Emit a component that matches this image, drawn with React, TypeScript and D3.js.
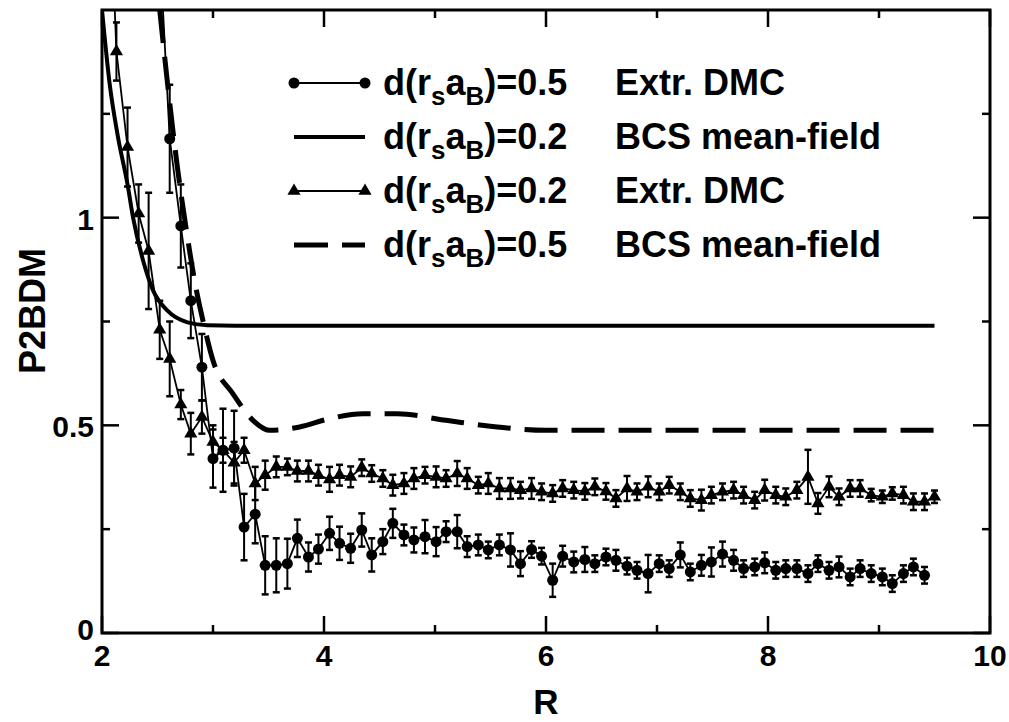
import * as d3 from 'd3';

// R grid shared by both DMC series
const R_GRID = [
  2.04, 2.13, 2.23, 2.33, 2.42, 2.52, 2.61, 2.71, 2.80, 2.90,
  3.00, 3.09, 3.19, 3.28, 3.38, 3.47, 3.57, 3.67, 3.76, 3.86,
  3.95, 4.05, 4.14, 4.24, 4.34, 4.43, 4.53, 4.62, 4.72, 4.81,
  4.91, 5.01, 5.10, 5.20, 5.29, 5.39, 5.48, 5.58, 5.68, 5.77,
  5.87, 5.96, 6.06, 6.15, 6.25, 6.35, 6.44, 6.54, 6.63, 6.73,
  6.82, 6.92, 7.02, 7.11, 7.21, 7.30, 7.40, 7.49, 7.59, 7.69,
  7.78, 7.88, 7.97, 8.07, 8.16, 8.26, 8.36, 8.45, 8.55, 8.64,
  8.74, 8.83, 8.93, 9.03, 9.12, 9.22, 9.31, 9.41, 9.50,
];

// d(rs aB)=0.2 Extr. DMC (triangles)
const TRI_VALUES = [
  2.0, 1.40, 1.17, 1.01, 0.92, 0.73, 0.66, 0.55, 0.48, 0.52,
  0.46, 0.44, 0.41, 0.44, 0.36, 0.38, 0.40, 0.40, 0.39, 0.39,
  0.38, 0.37, 0.38, 0.376, 0.398, 0.384, 0.372, 0.356, 0.36, 0.372,
  0.38, 0.376, 0.372, 0.384, 0.372, 0.356, 0.36, 0.348, 0.348, 0.344,
  0.348, 0.34, 0.336, 0.348, 0.344, 0.341, 0.352, 0.341, 0.324, 0.348,
  0.34, 0.352, 0.34, 0.356, 0.34, 0.324, 0.32, 0.332, 0.34, 0.344,
  0.332, 0.32, 0.344, 0.332, 0.328, 0.344, 0.376, 0.312, 0.352, 0.328,
  0.348, 0.348, 0.332, 0.328, 0.336, 0.332, 0.316, 0.316, 0.328,
];
const TRI_ERRORS = [
  0.07, 0.07, 0.095, 0.07, 0.14, 0.07, 0.09, 0.035, 0.05, 0.04,
  0.04, 0.03, 0.05, 0.03, 0.04, 0.035, 0.025, 0.02, 0.025, 0.025,
  0.025, 0.03, 0.025, 0.025, 0.02, 0.02, 0.02, 0.025, 0.025, 0.025,
  0.02, 0.025, 0.02, 0.03, 0.025, 0.02, 0.025, 0.025, 0.025, 0.02,
  0.025, 0.02, 0.02, 0.02, 0.02, 0.02, 0.02, 0.02, 0.02, 0.03,
  0.02, 0.025, 0.02, 0.02, 0.02, 0.02, 0.025, 0.02, 0.02, 0.02,
  0.02, 0.02, 0.025, 0.02, 0.02, 0.02, 0.065, 0.025, 0.025, 0.02,
  0.02, 0.02, 0.015, 0.015, 0.015, 0.02, 0.02, 0.02, 0.015,
];

// d(rs aB)=0.5 Extr. DMC (circles), starts at R_GRID[5] and ends at R_GRID[77]
const CIRCLE_START = 5;
const CIRC_VALUES = [
  1.65, 1.19, 0.98, 0.80, 0.64,
  0.42, 0.44, 0.445, 0.255, 0.286, 0.163, 0.163, 0.167, 0.228, 0.183,
  0.202, 0.24, 0.216, 0.204, 0.248, 0.188, 0.22, 0.264, 0.236, 0.224,
  0.232, 0.22, 0.244, 0.244, 0.208, 0.212, 0.2, 0.212, 0.2, 0.167,
  0.201, 0.185, 0.127, 0.185, 0.171, 0.177, 0.167, 0.183, 0.175, 0.161,
  0.151, 0.143, 0.167, 0.155, 0.188, 0.147, 0.163, 0.171, 0.19, 0.175,
  0.155, 0.159, 0.169, 0.151, 0.155, 0.155, 0.143, 0.167, 0.151, 0.159,
  0.135, 0.155, 0.143, 0.135, 0.119, 0.143, 0.159, 0.139,
];
const CIRC_ERRORS = [
  0.1, 0.13, 0.1, 0.09, 0.08,
  0.07, 0.1, 0.09, 0.08, 0.07, 0.07, 0.065, 0.06, 0.045, 0.035,
  0.035, 0.04, 0.04, 0.035, 0.04, 0.04, 0.03, 0.035, 0.025, 0.03,
  0.04, 0.035, 0.025, 0.04, 0.025, 0.025, 0.02, 0.025, 0.04, 0.03,
  0.02, 0.02, 0.04, 0.025, 0.025, 0.03, 0.02, 0.02, 0.025, 0.02,
  0.02, 0.045, 0.02, 0.02, 0.03, 0.02, 0.025, 0.035, 0.03, 0.025,
  0.02, 0.02, 0.025, 0.02, 0.02, 0.02, 0.02, 0.02, 0.02, 0.025,
  0.02, 0.02, 0.02, 0.02, 0.02, 0.02, 0.02, 0.02,
];

// BCS mean-field curves
const BCS02_R = [2.0, 2.07, 2.14, 2.23, 2.28, 2.37, 2.46, 2.59, 2.77, 2.95, 3.2, 9.5];
const BCS02_V = [1.5, 1.32, 1.2, 1.08, 1.0, 0.897, 0.825, 0.776, 0.748, 0.741, 0.740, 0.740];

const BCS05_R = [2.52, 2.60, 2.68, 2.76, 2.84, 2.92, 3.0, 3.18, 3.36, 3.51, 3.78, 4.05, 4.35, 4.66, 5.1, 5.56, 6.0, 9.5];
const BCS05_V = [1.5, 1.30, 1.12, 0.97, 0.84, 0.74, 0.656, 0.576, 0.512, 0.488, 0.496, 0.516, 0.528, 0.528, 0.512, 0.496, 0.488, 0.488];

const X_MAJOR = [2, 4, 6, 8, 10];
const X_MINOR = [3, 5, 7, 9];
const Y_MAJOR = [0, 0.5, 1];
const Y_LABELS = ['0', '0.5', '1'];
const Y_MINOR = [0.25, 0.75, 1.25];

const LEGEND_LABELS = ['0.5', '0.2', '0.2', '0.5'];
const LEGEND_METHODS = ['Extr. DMC', 'BCS mean-field', 'Extr. DMC', 'BCS mean-field'];

const FONT = '"Liberation Sans", Arial, Helvetica, sans-serif';

export default function App() {
  const W = 1009;
  const H = 722;
  const left = 102, right = 990, top = 10, bottom = 633;

  const x = d3.scaleLinear().domain([2, 10]).range([left, right]);
  const y = d3.scaleLinear().domain([0, 1.5]).range([bottom, top]);

  const tri = R_GRID.map((r, i) => ({ r, v: TRI_VALUES[i], e: TRI_ERRORS[i] }));
  const circ = CIRC_VALUES.map((v, i) => ({ r: R_GRID[i + CIRCLE_START], v, e: CIRC_ERRORS[i] }));
  const bcs02 = BCS02_R.map((r, i) => ({ r, v: BCS02_V[i] }));
  const bcs05 = BCS05_R.map((r, i) => ({ r, v: BCS05_V[i] }));

  const dataLine = d3.line<{ r: number; v: number }>().x(d => x(d.r)).y(d => y(d.v));
  const smoothLine = d3.line<{ r: number; v: number }>()
    .x(d => x(d.r)).y(d => y(d.v)).curve(d3.curveMonotoneX);

  const triPath = d3.symbol().type(d3.symbolTriangle).size(75)() as string;

  const errBars = (pts: { r: number; v: number; e: number }[]) =>
    pts.map((d, i) => {
      const cx = x(d.r);
      const y1 = y(d.v + d.e);
      const y2 = y(d.v - d.e);
      return (
        <g key={i}>
          <line x1={cx} x2={cx} y1={y1} y2={y2} stroke="#000" strokeWidth={2} />
          <line x1={cx - 3.5} x2={cx + 3.5} y1={y1} y2={y1} stroke="#000" strokeWidth={2.5} />
          <line x1={cx - 3.5} x2={cx + 3.5} y1={y2} y2={y2} stroke="#000" strokeWidth={2.5} />
        </g>
      );
    });

  const major = 17, minor = 8;

  const legendX1 = 294, legendX2 = 365;
  const legendBase = (k: number) => 95 + k * 54;

  return (
    <svg width={W} height={H} style={{ position: 'absolute', left: 0, top: 0, background: '#fff' }}
      fontFamily={FONT} fontWeight="bold">
      <defs>
        <clipPath id="plot">
          <rect x={left} y={top} width={right - left} height={bottom - top} />
        </clipPath>
      </defs>
      <rect width={W} height={H} fill="#fff" />

      <g clipPath="url(#plot)">
        <path d={smoothLine(bcs02) || ''} fill="none" stroke="#000" strokeWidth={4} />
        <path d={smoothLine(bcs05) || ''} fill="none" stroke="#000" strokeWidth={5} strokeDasharray="33 14" />
        <path d={dataLine(tri) || ''} fill="none" stroke="#000" strokeWidth={1.8} />
        <path d={dataLine(circ) || ''} fill="none" stroke="#000" strokeWidth={1.8} />
        {errBars(tri)}
        {errBars(circ)}
        {tri.map((d, i) => (
          <path key={i} d={triPath} transform={`translate(${x(d.r)},${y(d.v)})`} fill="#000" />
        ))}
        {circ.map((d, i) => (
          <circle key={i} cx={x(d.r)} cy={y(d.v)} r={5.5} fill="#000" />
        ))}
      </g>

      {/* frame */}
      <rect x={left} y={top} width={right - left} height={bottom - top} fill="none" stroke="#000" strokeWidth={3} />

      {/* ticks, inward on all sides */}
      {X_MAJOR.map(t => (
        <g key={`xm${t}`}>
          <line x1={x(t)} x2={x(t)} y1={bottom} y2={bottom - major} stroke="#000" strokeWidth={2.5} />
          <line x1={x(t)} x2={x(t)} y1={top} y2={top + major} stroke="#000" strokeWidth={2.5} />
          <text x={x(t)} y={666} textAnchor="middle" fontSize={30}>{t}</text>
        </g>
      ))}
      {X_MINOR.map(t => (
        <g key={`xn${t}`}>
          <line x1={x(t)} x2={x(t)} y1={bottom} y2={bottom - minor} stroke="#000" strokeWidth={2.5} />
          <line x1={x(t)} x2={x(t)} y1={top} y2={top + minor} stroke="#000" strokeWidth={2.5} />
        </g>
      ))}
      {Y_MAJOR.map((t, i) => (
        <g key={`ym${t}`}>
          <line x1={left} x2={left + major} y1={y(t)} y2={y(t)} stroke="#000" strokeWidth={2.5} />
          <line x1={right} x2={right - major} y1={y(t)} y2={y(t)} stroke="#000" strokeWidth={2.5} />
          <text x={94} y={y(t) + (t === 0 ? 7 : 12)} textAnchor="end" fontSize={30}>{Y_LABELS[i]}</text>
        </g>
      ))}
      {Y_MINOR.map(t => (
        <g key={`yn${t}`}>
          <line x1={left} x2={left + minor} y1={y(t)} y2={y(t)} stroke="#000" strokeWidth={2.5} />
          <line x1={right} x2={right - minor} y1={y(t)} y2={y(t)} stroke="#000" strokeWidth={2.5} />
        </g>
      ))}

      {/* axis titles */}
      <text x={546} y={714} textAnchor="middle" fontSize={35}>R</text>
      <text transform="translate(45,311) rotate(-90)" textAnchor="middle" fontSize={36}>P2BDM</text>

      {/* legend */}
      {LEGEND_LABELS.map((lab, k) => {
        const b = legendBase(k);
        const sy = b - 12;
        return (
          <g key={k}>
            {k === 0 && (
              <g>
                <line x1={legendX1} x2={legendX2} y1={sy} y2={sy} stroke="#000" strokeWidth={1.8} />
                <circle cx={legendX1} cy={sy} r={5.5} />
                <circle cx={legendX2} cy={sy} r={5.5} />
              </g>
            )}
            {k === 1 && <line x1={legendX1} x2={legendX2} y1={sy} y2={sy} stroke="#000" strokeWidth={4} />}
            {k === 2 && (
              <g>
                <line x1={legendX1} x2={legendX2} y1={sy} y2={sy} stroke="#000" strokeWidth={1.8} />
                <path d={triPath} transform={`translate(${legendX1},${sy})`} />
                <path d={triPath} transform={`translate(${legendX2},${sy})`} />
              </g>
            )}
            {k === 3 && (
              <line x1={legendX1} x2={legendX2} y1={sy} y2={sy} stroke="#000" strokeWidth={5} strokeDasharray="34 14" />
            )}
            <text x={383} y={b} fontSize={36}>
              d(r<tspan fontSize={26} dy={10}>s</tspan><tspan dy={-10}>a</tspan><tspan fontSize={26} dy={10}>B</tspan><tspan dy={-10}>)={lab}</tspan>
            </text>
            <text x={615} y={b} fontSize={36}>{LEGEND_METHODS[k]}</text>
          </g>
        );
      })}
    </svg>
  );
}
